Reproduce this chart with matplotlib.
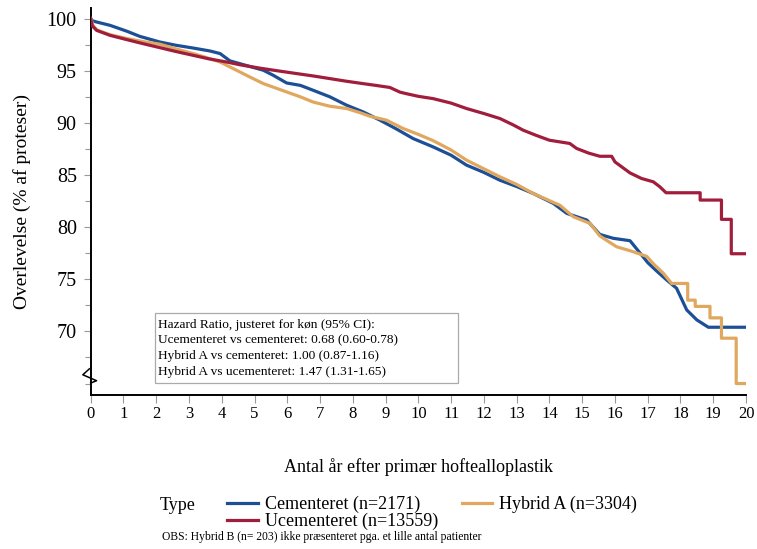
import matplotlib.pyplot as plt
from matplotlib.lines import Line2D
from matplotlib.patches import Rectangle

plt.rcParams['font.family'] = ['Liberation Serif', 'DejaVu Serif']

# Kaplan-Meier survival (%), years after primary hip replacement
cem_t = [0, 0.05, 0.18, 0.59, 1.1, 1.5, 2.11, 2.6, 3.13, 3.64, 3.95, 4.25, 4.76, 5.27,
         5.57, 5.98, 6.4, 6.79, 7.3, 7.81, 8.32, 8.83, 9.34, 9.84, 10.45, 11.0, 11.47,
         12.0, 12.49, 13.0, 13.5, 14.12, 14.53, 15.14, 15.54, 15.95, 16.46, 16.77,
         17.0, 17.27, 17.58, 17.88, 18.19, 18.5, 18.85, 20]
cem_s = [100, 99.8, 99.68, 99.36, 98.8, 98.3, 97.76, 97.45, 97.18, 96.9, 96.65, 95.95,
         95.5, 95.05, 94.57, 93.83, 93.6, 93.13, 92.5, 91.7, 91.05, 90.26, 89.4, 88.5,
         87.7, 86.9, 85.95, 85.25, 84.5, 83.9, 83.24, 82.28, 81.32, 80.68, 79.3, 78.93,
         78.7, 77.5, 76.6, 75.8, 74.93, 74.14, 72.06, 71.1, 70.4, 70.4]

hyb_t = [0, 0.08, 0.2, 0.6, 1.1, 1.6, 2.11, 2.6, 3.13, 3.5, 3.95, 4.45, 4.86, 5.27,
         5.6, 5.98, 6.4, 6.79, 7.3, 7.81, 8.2, 8.52, 9.03, 9.54, 10.0, 10.45, 11.0,
         11.47, 12.0, 12.49, 13.0, 13.5, 14.32, 14.73, 15.24, 15.54, 16.05, 16.46,
         16.97, 17.2, 17.48, 17.73, 18.22, 18.22, 18.45, 18.45, 18.9, 18.9, 19.25,
         19.25, 19.7, 19.7, 20]
hyb_s = [100, 99.3, 98.9, 98.45, 98.1, 97.8, 97.55, 97.1, 96.65, 96.3, 95.84, 95.05,
         94.4, 93.77, 93.4, 92.97, 92.5, 92.0, 91.6, 91.38, 91.0, 90.64, 90.26, 89.46,
         88.9, 88.3, 87.4, 86.43, 85.6, 84.83, 84.1, 83.24, 82.1, 81.0, 80.36, 79.15,
         78.12, 77.74, 77.2, 76.4, 75.57, 74.6, 74.6, 73.0, 73.0, 72.4, 72.4, 71.3,
         71.3, 69.35, 69.35, 65.0, 65.0]

ucem_t = [0, 0.05, 0.18, 0.59, 1.1, 1.6, 2.11, 2.6, 3.13, 3.6, 4.15, 4.6, 5.17, 5.7,
          6.29, 6.8, 7.3, 7.8, 8.31, 8.7, 9.13, 9.44, 9.64, 10.0, 10.45, 11.0, 11.47,
          12.0, 12.49, 12.9, 13.2, 13.6, 14.0, 14.62, 14.83, 15.2, 15.54, 15.9, 16.0,
          16.2, 16.46, 16.81, 17.17, 17.37, 17.56, 18.6, 18.6, 19.25, 19.25, 19.55,
          19.55, 20]
ucem_s = [100, 99.3, 98.88, 98.4, 97.99, 97.6, 97.22, 96.85, 96.48, 96.15, 95.84,
          95.55, 95.25, 95.0, 94.73, 94.5, 94.25, 94.0, 93.77, 93.6, 93.4, 92.95, 92.8,
          92.55, 92.33, 91.9, 91.38, 90.9, 90.42, 89.8, 89.3, 88.8, 88.34, 88.03, 87.55,
          87.1, 86.8, 86.8, 86.26, 85.8, 85.2, 84.67, 84.35, 83.87, 83.3, 83.3, 82.6,
          82.6, 80.75, 80.75, 77.45, 77.45]

labels = ['Cementeret (n=2171)', 'Ucementeret (n=13559)', 'Hybrid A (n=3304)']
colors = ['#1c4f96', '#a11d3c', '#e0a85f']

hr_lines = ['Hazard Ratio, justeret for køn (95% CI):',
            'Ucementeret vs cementeret: 0.68 (0.60-0.78)',
            'Hybrid A vs cementeret: 1.00 (0.87-1.16)',
            'Hybrid A vs ucementeret: 1.47 (1.31-1.65)']

fig = plt.figure(figsize=(7.57, 5.49), dpi=100)
ax = fig.add_axes([0.1198, 0.2805, 0.8657, 0.7045])

lw = 2.3
ax.plot(cem_t, cem_s, color=colors[0], lw=lw, zorder=3)
ax.plot(hyb_t, hyb_s, color=colors[2], lw=lw, zorder=4)
ax.plot(ucem_t, ucem_s, color=colors[1], lw=lw, zorder=5)

ax.set_xlim(0, 20)
ax.set_ylim(63.9, 101)
ax.set_xticks(range(0, 21))
ax.set_yticks([70, 75, 80, 85, 90, 95, 100])
ax.set_yticks([65 + 2.5 * i for i in range(15)], minor=True)

for s in ['top', 'right']:
    ax.spines[s].set_visible(False)
for s in ['left', 'bottom']:
    ax.spines[s].set_linewidth(1.4)
    ax.spines[s].set_color('black')

ax.tick_params(axis='x', length=6, width=0.8, color='#999999', labelsize=12, pad=2)
ax.tick_params(axis='y', which='major', length=5, width=0.8, color='#999999',
               labelsize=14.5, pad=5)
ax.tick_params(axis='y', which='minor', length=4, width=0.8, color='#999999')

ax.set_xlabel('Antal år efter primær hoftealloplastik', fontsize=13, labelpad=26)
ax.set_ylabel('Overlevelse (% af proteser)', fontsize=14, labelpad=11)

# axis break mark on the y axis
ax.plot([-0.04, -0.24, 0.18, 0.0], [66.41, 65.84, 65.27, 65.05], color='black',
        lw=1.1, clip_on=False, zorder=6)

# hazard ratio box
ax.add_patch(Rectangle((1.96, 65.06), 9.24, 6.71, fill=False, ec='#aaaaaa', lw=0.9,
                       zorder=6))
ax.text(2.06, 71.2, '\n'.join(hr_lines), fontsize=9.6, va='top', ha='left',
        linespacing=1.42, zorder=7)

handles = [Line2D([], [], color=c, lw=2.3) for c in colors]
fig.legend(handles, labels, loc='upper left', bbox_to_anchor=(0.283, 0.12), ncol=2,
           frameon=False, fontsize=13, handlelength=1.7, handletextpad=0.4,
           columnspacing=1.3, labelspacing=0.0, borderpad=0.2)
fig.text(160 / 757, 1 - 505 / 549, 'Type', fontsize=13, va='center', ha='left')
fig.text(162 / 757, 1 - 537 / 549,
         'OBS: Hybrid B (n= 203) ikke præsenteret pga. et lille antal patienter',
         fontsize=8.4, va='center', ha='left')

fig.savefig('out.png', dpi=100)
